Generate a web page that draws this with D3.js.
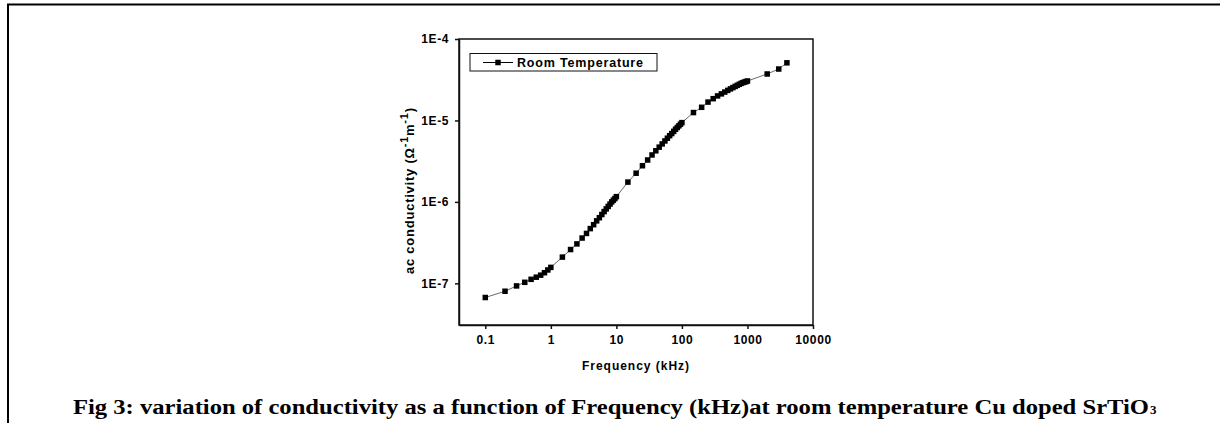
<!DOCTYPE html>
<html>
<head>
<meta charset="utf-8">
<script src="https://cdn.jsdelivr.net/npm/d3@7"></script>
<style>
  html, body { margin: 0; padding: 0; background: #fff; }
  svg { display: block; }
</style>
</head>
<body>
<div id="chart"></div>
<script>
// frequency in kHz
const freq = [
  0.1, 0.2, 0.3, 0.4, 0.5, 0.6, 0.7, 0.8, 0.9, 1,
  1.5, 2, 2.5, 3, 3.5, 4, 4.5, 5, 5.5, 6, 6.5, 7, 7.5, 8, 8.5, 9, 9.5, 10,
  15, 20, 25, 30, 35, 40, 45, 50, 55, 60, 65, 70, 75, 80, 85, 90, 95, 100,
  150, 200, 250, 300, 350, 400, 450, 500, 550, 600, 650, 700, 750, 800, 850, 900, 950, 1000,
  2000, 3000, 4000,
];
// ac conductivity (ohm^-1 m^-1)
const sigma = [
  6.7e-8, 8.0e-8, 9.3e-8, 1.03e-7, 1.12e-7, 1.19e-7, 1.26e-7, 1.35e-7, 1.46e-7, 1.57e-7,
  2.1e-7, 2.6e-7, 3.05e-7, 3.6e-7, 4.1e-7, 4.7e-7, 5.25e-7, 5.85e-7, 6.4e-7, 7.0e-7,
  7.6e-7, 8.2e-7, 8.8e-7, 9.4e-7, 1.0e-6, 1.05e-6, 1.1e-6, 1.16e-6,
  1.75e-6, 2.25e-6, 2.78e-6, 3.27e-6, 3.77e-6, 4.24e-6, 4.7e-6, 5.15e-6, 5.6e-6, 6.05e-6,
  6.5e-6, 6.9e-6, 7.35e-6, 7.8e-6, 8.2e-6, 8.6e-6, 9.0e-6, 9.4e-6,
  1.25e-5, 1.45e-5, 1.68e-5, 1.85e-5, 2.0e-5, 2.12e-5, 2.23e-5, 2.34e-5, 2.44e-5, 2.53e-5,
  2.62e-5, 2.7e-5, 2.78e-5, 2.85e-5, 2.91e-5, 2.96e-5, 3.0e-5, 3.05e-5,
  3.72e-5, 4.28e-5, 5.1e-5,
];
const xTicks = [0.1, 1, 10, 100, 1000, 10000];
const xTickLabels = ['0.1', '1', '10', '100', '1000', '10000'];
const yTicks = [1e-7, 1e-6, 1e-5, 1e-4];
const yTickLabels = ['1E-7', '1E-6', '1E-5', '1E-4'];
const seriesName = 'Room Temperature';

const width = 1220;
const height = 423;
const plot = { left: 459, right: 813, top: 39, bottom: 325 };
const axisFont = 'Arial, "Liberation Sans", sans-serif';

const svg = d3.select('#chart')
  .append('svg')
  .attr('width', width)
  .attr('height', height);

// page frame (top and left rule)
svg.append('line')
  .attr('x1', 7).attr('x2', width).attr('y1', 4.5).attr('y2', 4.5)
  .attr('stroke', '#000').attr('stroke-width', 2);
svg.append('line')
  .attr('x1', 8).attr('x2', 8).attr('y1', 4).attr('y2', height)
  .attr('stroke', '#000').attr('stroke-width', 2);

const x = d3.scaleLog()
  .domain([0.0397, 10000])
  .range([plot.left, plot.right]);

const y = d3.scaleLog()
  .domain([3.08e-8, 1e-4])
  .range([plot.bottom, plot.top]);

// plot box
svg.append('rect')
  .attr('x', plot.left)
  .attr('y', plot.top)
  .attr('width', plot.right - plot.left)
  .attr('height', plot.bottom - plot.top)
  .attr('fill', 'none')
  .attr('stroke', '#111')
  .attr('stroke-width', 1.5);

const xAxis = svg.append('g')
  .attr('transform', `translate(0, ${plot.bottom})`)
  .call(d3.axisBottom(x)
    .tickValues(xTicks)
    .tickFormat((d, i) => xTickLabels[i])
    .tickSize(4)
    .tickSizeOuter(0)
    .tickPadding(6.5));

const yAxis = svg.append('g')
  .attr('transform', `translate(${plot.left}, 0)`)
  .call(d3.axisLeft(y)
    .tickValues(yTicks)
    .tickFormat((d, i) => yTickLabels[i])
    .tickSize(4)
    .tickSizeOuter(0)
    .tickPadding(6));

[xAxis, yAxis].forEach((g) => {
  g.select('.domain').attr('stroke', '#111').attr('stroke-width', 1.5);
  g.selectAll('.tick line').attr('stroke', '#111').attr('stroke-width', 1.5);
  g.selectAll('.tick text')
    .attr('fill', '#000')
    .style('font-family', axisFont)
    .style('font-weight', 'bold')
    .style('font-size', '12px')
    .style('letter-spacing', '0.6px');
});

// axis titles
svg.append('text')
  .attr('x', 635.5)
  .attr('y', 370)
  .attr('text-anchor', 'middle')
  .attr('textLength', 107)
  .style('font-family', axisFont)
  .style('font-weight', 'bold')
  .style('font-size', '12px')
  .text('Frequency (kHz)');

const yTitle = svg.append('text')
  .attr('transform', 'translate(414, 191) rotate(-90)')
  .attr('text-anchor', 'middle')
  .attr('textLength', 166)
  .style('font-family', axisFont)
  .style('font-weight', 'bold')
  .style('font-size', '13px');
yTitle.append('tspan').text('ac conductivity (\u03A9');
yTitle.append('tspan').attr('dy', -6).style('font-size', '11px').text('-1');
yTitle.append('tspan').attr('dy', 6).text('m');
yTitle.append('tspan').attr('dy', -6).style('font-size', '11px').text('-1');
yTitle.append('tspan').attr('dy', 6).text(')');

// series
const points = freq.map((f, i) => [f, sigma[i]]);

svg.append('path')
  .datum(points)
  .attr('fill', 'none')
  .attr('stroke', '#444')
  .attr('stroke-width', 0.8)
  .attr('d', d3.line()
    .x(d => x(d[0]))
    .y(d => y(d[1])));

const markerSize = 5.5;
svg.append('g')
  .selectAll('rect')
  .data(points)
  .enter()
  .append('rect')
  .attr('x', d => x(d[0]) - markerSize / 2)
  .attr('y', d => y(d[1]) - markerSize / 2)
  .attr('width', markerSize)
  .attr('height', markerSize)
  .attr('fill', '#000');

// legend
const legend = svg.append('g');
legend.append('rect')
  .attr('x', 470).attr('y', 53.5)
  .attr('width', 187).attr('height', 17.5)
  .attr('fill', '#fff')
  .attr('stroke', '#111')
  .attr('stroke-width', 1);
legend.append('line')
  .attr('x1', 483).attr('x2', 513).attr('y1', 62.5).attr('y2', 62.5)
  .attr('stroke', '#000').attr('stroke-width', 1);
legend.append('rect')
  .attr('x', 498 - markerSize / 2).attr('y', 62.5 - markerSize / 2)
  .attr('width', markerSize).attr('height', markerSize)
  .attr('fill', '#000');
legend.append('text')
  .attr('x', 517)
  .attr('y', 66.8)
  .attr('textLength', 126)
  .style('font-family', axisFont)
  .style('font-weight', 'bold')
  .style('font-size', '12.5px')
  .text(seriesName);

// caption
const captionFont = '"Palatino Linotype", "Book Antiqua", "Liberation Serif", serif';
svg.append('text')
  .attr('x', 73)
  .attr('y', 414)
  .attr('textLength', 1076)
  .attr('lengthAdjust', 'spacingAndGlyphs')
  .style('font-family', captionFont)
  .style('font-weight', 'bold')
  .style('font-size', '20px')
  .text('Fig 3: variation of conductivity as a function of Frequency (kHz)at room temperature Cu doped SrTiO');
svg.append('text')
  .attr('x', 1150)
  .attr('y', 414)
  .style('font-family', captionFont)
  .style('font-weight', 'bold')
  .style('font-size', '13px')
  .text('3');
</script>
</body>
</html>
